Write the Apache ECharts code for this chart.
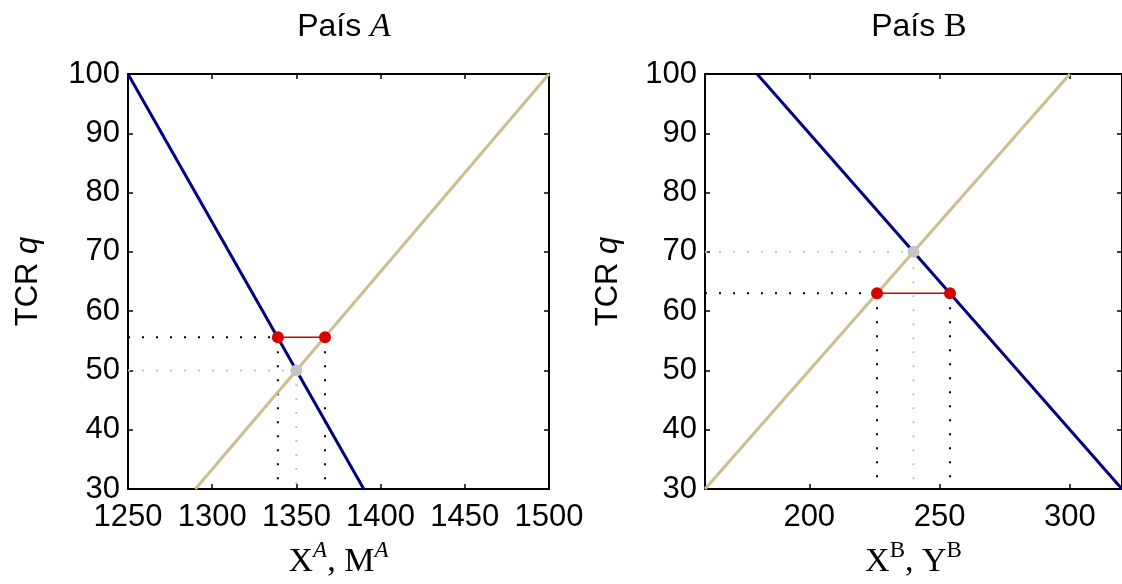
<!DOCTYPE html>
<html>
<head>
<meta charset="utf-8">
<script src="https://cdn.jsdelivr.net/npm/echarts@6/dist/echarts.min.js"></script>
<style>html,body{margin:0;padding:0;background:#fff}#c{width:1122px;height:584px}</style>
</head>
<body>
<div id="c"></div>
<script>
// ---- Data ----
// País A
const xRangeA = [1250, 1500];
const xTicksA = [1250, 1300, 1350, 1400, 1450, 1500];
const blueA = [[1250, 100], [1390, 30]];      // decreasing curve
const tanA = [[1290, 30], [1500, 100]];       // increasing curve
const eqA = [1350, 50];                       // gray equilibrium
const redA = [[1339, 55.6], [1367, 55.6]];    // red pair
// País B
const xRangeB = [160, 320];
const xTicksB = [200, 250, 300];
const blueB = [[180, 100], [320, 30]];
const tanB = [[160, 30], [300, 100]];
const eqB = [240, 70];
const redB = [[226, 63], [254, 63]];
// shared y
const yRange = [30, 100];
const yTicks = [30, 40, 50, 60, 70, 80, 90, 100];

const FONT = 'Liberation Sans';
const SERIF = 'Liberation Serif';
const FS = 31;
const BLUE = '#000080', TAN = '#CCBE8E', RED = '#D60000', GRAY = '#C4C4C4';

function guidesGray(eq, xmin, ymin) {
  return [[xmin, eq[1]], [eq[0], eq[1]], [eq[0], ymin]];
}
function hGuide(red, xmin) { return [[xmin, red[0][1]], [red[0][0], red[0][1]]]; }
function vGuide(p, ymin) { return [[p[0], p[1]], [p[0], ymin]]; }

const gridL = {left: 128, top: 74, width: 421, height: 420};
const gridR = {left: 705, top: 74, width: 420, height: 420};
const plain = v => String(v);

function xAxes(gi, range, ticks, nameRich) {
  return [
    {type: 'value', gridIndex: gi, min: range[0], max: range[1], position: 'bottom',
     axisLine: {lineStyle: {color: '#000', width: 2}}, splitLine: {show: false},
     axisTick: {inside: true, length: 5, lineStyle: {color: '#000', width: 1.5}, customValues: ticks},
     axisLabel: {customValues: ticks, formatter: plain, color: '#000', fontFamily: FONT, fontSize: FS, margin: 13},
     name: nameRich.text, nameLocation: 'middle', nameGap: 50,
     nameTextStyle: {color: '#000', rich: nameRich.rich}},
    {type: 'value', gridIndex: gi, min: range[0], max: range[1], position: 'top',
     axisLine: {lineStyle: {color: '#000', width: 2}}, splitLine: {show: false},
     axisTick: {inside: true, length: 5, lineStyle: {color: '#000', width: 1.5}, customValues: ticks},
     axisLabel: {show: false}}
  ];
}
const yNameRich = {
  a: {fontFamily: FONT, fontSize: FS, color: '#000'},
  q: {fontFamily: FONT, fontSize: FS, fontStyle: 'italic', color: '#000'}
};
function yAxes(gi, gap) {
  return [
    {type: 'value', gridIndex: gi, min: yRange[0], max: yRange[1], position: 'left',
     axisLine: {lineStyle: {color: '#000', width: 2}}, splitLine: {show: false},
     axisTick: {inside: true, length: 5, lineStyle: {color: '#000', width: 1.5}, customValues: yTicks},
     axisLabel: {customValues: yTicks, formatter: plain, color: '#000', fontFamily: FONT, fontSize: FS, margin: 8},
     name: '{a|TCR }{q|q}', nameLocation: 'middle', nameGap: gap,
     nameTextStyle: {rich: yNameRich}},
    {type: 'value', gridIndex: gi, min: yRange[0], max: yRange[1], position: 'right',
     axisLine: {lineStyle: {color: '#000', width: 2}}, splitLine: {show: false},
     axisTick: {inside: true, length: 5, lineStyle: {color: '#000', width: 1.5}, customValues: yTicks},
     axisLabel: {show: false}}
  ];
}
const supRich = {
  m: {fontFamily: SERIF, fontSize: 34, color: '#000', verticalAlign: 'bottom', lineHeight: 40},
  s: {fontFamily: SERIF, fontSize: 23, fontStyle: 'italic', color: '#000', verticalAlign: 'top', lineHeight: 23},
  u: {fontFamily: SERIF, fontSize: 23, color: '#000', verticalAlign: 'top', lineHeight: 23}
};

function panelSeries(xi, yi, blue, tan, eq, red, xmin) {
  const dot = [2, 12];
  const base = {type: 'line', xAxisIndex: xi, yAxisIndex: yi, symbol: 'none', silent: true, animation: false};
  return [
    Object.assign({}, base, {data: guidesGray(eq, xmin, yRange[0]), lineStyle: {color: GRAY, width: 2, type: dot, cap: 'butt'}, z: 1}),
    Object.assign({}, base, {data: hGuide(red, xmin), lineStyle: {color: '#000', width: 2, type: dot, cap: 'butt'}, z: 1}),
    Object.assign({}, base, {data: vGuide(red[0], yRange[0]), lineStyle: {color: '#000', width: 2, type: dot, cap: 'butt'}, z: 1}),
    Object.assign({}, base, {data: vGuide(red[1], yRange[0]), lineStyle: {color: '#000', width: 2, type: dot, cap: 'butt'}, z: 1}),
    Object.assign({}, base, {data: blue, lineStyle: {color: BLUE, width: 3}, z: 2}),
    Object.assign({}, base, {data: tan, lineStyle: {color: TAN, width: 3}, z: 2}),
    Object.assign({}, base, {data: red, lineStyle: {color: RED, width: 1.5},
      symbol: 'circle', symbolSize: 12, showSymbol: true, itemStyle: {color: RED}, z: 4}),
    {type: 'scatter', xAxisIndex: xi, yAxisIndex: yi, data: [eq], symbolSize: 12,
     itemStyle: {color: GRAY, opacity: 1}, silent: true, animation: false, z: 3}
  ];
}

const chart = echarts.init(document.getElementById('c'), null, {renderer: 'canvas'});
chart.setOption({
  animation: false,
  backgroundColor: '#fff',
  title: [
    {text: '{a|País }{b|A}', left: 339, top: 5, textAlign: 'center',
     textStyle: {fontWeight: 'normal', rich: {a: {fontFamily: FONT, fontSize: 32, fontWeight: 'normal', color: '#000'},
                        b: {fontFamily: SERIF, fontSize: 34, fontStyle: 'italic', fontWeight: 'normal', color: '#000'}}}},
    {text: '{a|País }{b|B}', left: 914, top: 5, textAlign: 'center',
     textStyle: {fontWeight: 'normal', rich: {a: {fontFamily: FONT, fontSize: 32, fontWeight: 'normal', color: '#000'},
                        b: {fontFamily: SERIF, fontSize: 34, fontWeight: 'normal', color: '#000'}}}}
  ],
  grid: [gridL, gridR],
  xAxis: [].concat(
    xAxes(0, xRangeA, xTicksA, {text: '{m|X}{s|A}{m|, M}{s|A}', rich: supRich}),
    xAxes(1, xRangeB, xTicksB, {text: '{m|X}{u|B}{m|, Y}{u|B}', rich: supRich})
  ),
  yAxis: [].concat(yAxes(0, 84), yAxes(1, 81)),
  series: [].concat(
    panelSeries(0, 0, blueA, tanA, eqA, redA, xRangeA[0]),
    panelSeries(2, 2, blueB, tanB, eqB, redB, xRangeB[0])
  )
});
</script>
</body>
</html>
